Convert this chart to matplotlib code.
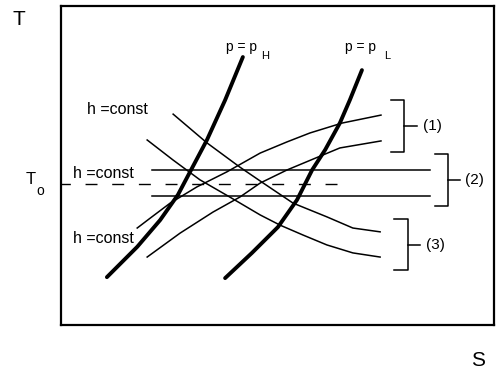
import matplotlib
matplotlib.use("Agg")
import matplotlib.pyplot as plt

plt.rcParams['font.family'] = ['Liberation Sans', 'DejaVu Sans']

# Isobars (entropy S, temperature T), both in percent of the frame
p_high_S = [10.6, 17.6, 22.9, 27.0, 29.8, 33.7, 37.9, 42.0]
p_high_T = [15.0, 24.5, 32.9, 40.8, 48.0, 58.0, 70.5, 84.0]
p_low_S = [37.9, 44.1, 50.1, 54.5, 58.0, 61.0, 64.4, 66.7, 69.5]
p_low_T = [14.7, 22.6, 30.7, 39.2, 48.6, 54.9, 63.3, 70.5, 79.9]

# Lines of constant enthalpy, family (1): rising with S
h1a_S = [17.6, 20.6, 25.2, 31.4, 38.3, 46.0, 52.2, 57.5, 64.9, 73.9]
h1a_T = [30.4, 33.5, 38.2, 43.3, 48.0, 53.9, 57.4, 60.2, 63.3, 65.8]
h1b_S = [19.9, 27.5, 35.1, 41.3, 46.0, 52.2, 60.5, 64.4, 73.9]
h1b_T = [21.3, 28.8, 35.4, 40.1, 44.5, 48.6, 53.3, 55.5, 57.7]

# family (2): flat
h2_S = [21.0, 85.2]
h2_T = [48.6, 40.4]

# family (3): falling with S
h3a_S = [25.9, 33.7, 41.3, 46.7, 53.6, 61.4, 67.4, 73.7]
h3a_T = [66.1, 57.1, 49.5, 44.5, 38.2, 33.9, 30.4, 29.2]
h3b_S = [19.9, 25.9, 32.1, 39.0, 46.0, 50.6, 55.9, 61.4, 67.4, 73.7]
h3b_T = [58.0, 51.7, 45.5, 40.1, 34.5, 31.3, 28.2, 25.1, 22.6, 21.3]

T0 = 44.2
T0_end = 63.7

fig = plt.figure(figsize=(4.96, 3.71), dpi=100)
ax = fig.add_axes([61 / 496, 46 / 371, 433 / 496, 319 / 371])
ax.set_xlim(0, 100)
ax.set_ylim(0, 100)
ax.set_xticks([])
ax.set_yticks([])
for sp in ax.spines.values():
    sp.set_linewidth(1.6)

thick = dict(color='black', lw=2.8, solid_capstyle='round', solid_joinstyle='round')
thin = dict(color='black', lw=1.1, solid_joinstyle='round')

ax.plot(p_high_S, p_high_T, **thick)
ax.plot(p_low_S, p_low_T, **thick)
ax.plot(h1a_S, h1a_T, **thin)
ax.plot(h1b_S, h1b_T, **thin)
for t in h2_T:
    ax.plot(h2_S, [t, t], **thin)
ax.plot(h3a_S, h3a_T, **thin)
ax.plot(h3b_S, h3b_T, **thin)
# dashed T0 isotherm, drawn right to left so it ends on a dash
ax.plot([T0_end, 0], [T0, T0], color='black', lw=1.0, dashes=(8.6, 10.6))


def bracket(ax, x, y0, y1, arm, tip, label):
    ax.plot([x - arm, x, x, x - arm], [y1, y1, y0, y0], color='black', lw=1.1)
    ym = (y0 + y1) / 2
    ax.plot([x, x + tip], [ym, ym], color='black', lw=1.1)
    ax.text(x + tip + 1.3, ym, label, fontsize=11, ha='left', va='center')


bracket(ax, 79.2, 54.2, 70.5, 3.0, 3.0, '(1)')
bracket(ax, 89.4, 37.3, 53.6, 3.0, 2.7, '(2)')
bracket(ax, 80.1, 17.2, 33.2, 3.2, 2.8, '(3)')

# labels
for s, t in [(6.0, 67.4), (2.8, 47.6), (2.8, 27.0)]:
    ax.text(s, t, 'h =const', fontsize=11.5, ha='left', va='center')

ax.text(38.1, 87.1, 'p = p', fontsize=10, ha='left', va='center')
ax.text(46.2, 84.4, 'H', fontsize=8, ha='left', va='center')
ax.text(65.6, 87.1, 'p = p', fontsize=10, ha='left', va='center')
ax.text(74.6, 84.4, 'L', fontsize=8, ha='left', va='center')

fig.text(19 / 496, 1 - 19.5 / 371, 'T', fontsize=15, ha='center', va='center')
fig.text(478 / 496, 1 - 361 / 371, 'S', fontsize=15, ha='center', va='center')
fig.text(31 / 496, 1 - 180 / 371, 'T', fontsize=12, ha='center', va='center')
fig.text(40 / 496, 1 - 191 / 371, 'o', fontsize=10, ha='center', va='center')

fig.savefig('out.png', dpi=100)
